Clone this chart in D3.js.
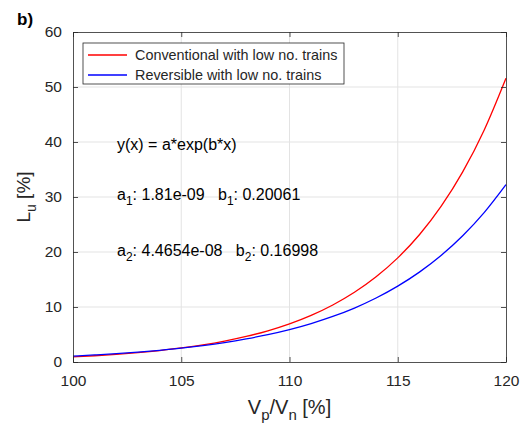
<!DOCTYPE html>
<html>
<head>
<meta charset="utf-8">
<script src="https://cdn.jsdelivr.net/npm/d3@7"></script>
<style>
  body { margin: 0; background: #fff; }
  text { font-family: Arial, "Liberation Sans", sans-serif; }
</style>
</head>
<body>
<div id="chart"></div>
<script>
// values at each 1 % step
const xs = [100, 101, 102, 103, 104, 105, 106, 107, 108, 109, 110,
            111, 112, 113, 114, 115, 116, 117, 118, 119, 120];
const conventional = [0.93, 1.14, 1.39, 1.70, 2.08, 2.55, 3.11, 3.80, 4.65, 5.68, 6.94,
                      8.48, 10.37, 12.67, 15.49, 18.93, 23.13, 28.28, 34.56, 42.24, 51.6];
const reversible = [1.08, 1.28, 1.51, 1.79, 2.13, 2.52, 2.99, 3.54, 4.20, 4.97, 5.89,
                    6.99, 8.28, 9.81, 11.63, 13.79, 16.34, 19.37, 22.96, 27.21, 32.25];
const xTicks = [100, 105, 110, 115, 120];
const yTicks = [0, 10, 20, 30, 40, 50, 60];
const seriesNames = ['Conventional with low no. trains', 'Reversible with low no. trains'];
const seriesColors = ['#ff0000', '#0000ff'];

const width = 528, height = 423;
const margin = { top: 32, right: 22, bottom: 61, left: 73 };
const iw = width - margin.left - margin.right;
const ih = height - margin.top - margin.bottom;

const svg = d3.select('#chart').append('svg')
    .attr('width', width)
    .attr('height', height);

const g = svg.append('g').attr('transform', `translate(${margin.left},${margin.top})`);

const x = d3.scaleLinear().domain([100, 120]).range([0, iw]);
const y = d3.scaleLinear().domain([0, 60]).range([ih, 0]);

// grid
g.append('g').selectAll('line').data(xTicks.slice(1, -1)).enter().append('line')
    .attr('x1', d => x(d)).attr('x2', d => x(d))
    .attr('y1', 0).attr('y2', ih)
    .attr('stroke', '#e3e3e3').attr('stroke-width', 1);
g.append('g').selectAll('line').data(yTicks.slice(1, -1)).enter().append('line')
    .attr('y1', d => y(d)).attr('y2', d => y(d))
    .attr('x1', 0).attr('x2', iw)
    .attr('stroke', '#e3e3e3').attr('stroke-width', 1);

// curves
const line = d3.line()
    .x((d, i) => x(xs[i]))
    .y(d => y(d))
    .curve(d3.curveMonotoneX);

[conventional, reversible].forEach((s, k) => {
    g.append('path')
        .datum(s)
        .attr('fill', 'none')
        .attr('stroke', seriesColors[k])
        .attr('stroke-width', 1.3)
        .attr('d', line);
});

// axes (MATLAB style: ticks inside, box all round)
const axisColor = '#262626';
const xAxis = g.append('g').attr('transform', `translate(0,${ih})`)
    .call(d3.axisBottom(x).tickValues(xTicks).tickSizeInner(-5).tickSizeOuter(0).tickPadding(13));
const yAxis = g.append('g')
    .call(d3.axisLeft(y).tickValues(yTicks).tickSizeInner(-5).tickSizeOuter(0).tickPadding(11));
const xTop = g.append('g')
    .call(d3.axisTop(x).tickValues(xTicks).tickSizeInner(-5).tickSizeOuter(0).tickFormat(''));
const yRight = g.append('g').attr('transform', `translate(${iw},0)`)
    .call(d3.axisRight(y).tickValues(yTicks).tickSizeInner(-5).tickSizeOuter(0).tickFormat(''));

[xAxis, yAxis, xTop, yRight].forEach(a => {
    a.selectAll('path, line').attr('stroke', axisColor).attr('stroke-width', 0.8);
    a.selectAll('text').attr('fill', axisColor).style('font-size', '15.5px');
});
xAxis.selectAll('text').attr('dy', '0.71em');

// axis labels
svg.append('text')
    .attr('x', margin.left + iw / 2)
    .attr('y', 414)
    .attr('text-anchor', 'middle')
    .attr('fill', axisColor)
    .style('font-size', '20px')
    .html('V<tspan dy="6" font-size="15">p</tspan><tspan dy="-6">/V</tspan><tspan dy="6" font-size="15">n</tspan><tspan dy="-6"> [%]</tspan>');

svg.append('text')
    .attr('transform', `translate(30,${margin.top + ih / 2}) rotate(-90)`)
    .attr('text-anchor', 'middle')
    .attr('fill', axisColor)
    .style('font-size', '19px')
    .html('L<tspan dy="6" font-size="14">u</tspan><tspan dy="-6"> [%]</tspan>');

// panel label
svg.append('text')
    .attr('x', 17).attr('y', 25)
    .attr('fill', '#000')
    .style('font-size', '17px')
    .style('font-weight', 'bold')
    .text('b)');

// legend
const legend = svg.append('g').attr('transform', 'translate(83,43)');
legend.append('rect')
    .attr('width', 261).attr('height', 41)
    .attr('fill', '#fff')
    .attr('stroke', axisColor).attr('stroke-width', 0.8);
seriesNames.forEach((name, i) => {
    const ly = 12 + i * 20;
    legend.append('line')
        .attr('x1', 5).attr('x2', 44).attr('y1', ly).attr('y2', ly)
        .attr('stroke', seriesColors[i]).attr('stroke-width', 1.3);
    legend.append('text')
        .attr('x', 52).attr('y', ly + 5)
        .attr('fill', axisColor)
        .style('font-size', '14.4px')
        .text(name);
});

// fit annotation
const ann = svg.append('g').attr('fill', '#000').style('font-size', '16px');
ann.append('text').attr('x', 117).attr('y', 150).text('y(x) = a*exp(b*x)');
ann.append('text').attr('x', 117).attr('y', 200)
    .html('a<tspan dy="5" font-size="12">1</tspan><tspan dy="-5">: 1.81e-09   b</tspan><tspan dy="5" font-size="12">1</tspan><tspan dy="-5">: 0.20061</tspan>');
ann.append('text').attr('x', 117).attr('y', 256)
    .html('a<tspan dy="5" font-size="12">2</tspan><tspan dy="-5">: 4.4654e-08   b</tspan><tspan dy="5" font-size="12">2</tspan><tspan dy="-5">: 0.16998</tspan>');
ann.selectAll('text').style('white-space', 'pre');
</script>
</body>
</html>
